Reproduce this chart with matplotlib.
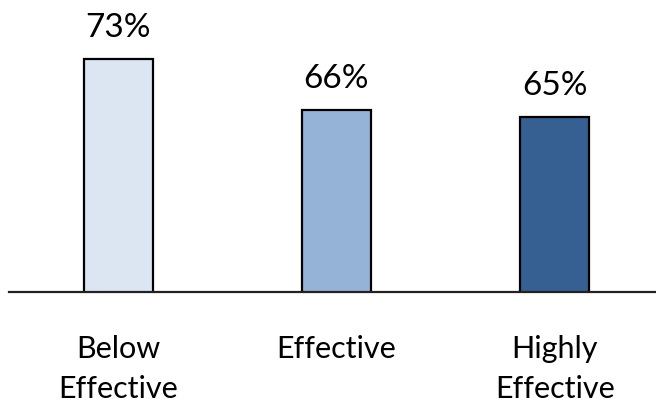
import matplotlib
matplotlib.use("Agg")
import matplotlib.pyplot as plt
import numpy as np

categories = ["Below\nEffective", "Effective", "Highly\nEffective"]
values = [73, 66, 65]
value_labels = ["73%", "66%", "65%"]
bar_colors = ["#DCE6F2", "#95B3D7", "#376092"]

plt.rcParams["font.family"] = ["Lato", "DejaVu Sans"]

W, H, DPI = 656, 399, 100
fig = plt.figure(figsize=(W / DPI, H / DPI), dpi=DPI)

base_px = 291.5
ax = fig.add_axes([9 / W, (H - base_px) / H, (W - 9) / W, base_px / H])

x = np.arange(len(categories))
ax.bar(x, values, width=0.317, color=bar_colors, edgecolor="black",
       linewidth=1.6, zorder=2)

ax.set_xlim(-0.5, 2.464)
ax.set_ylim(41.1, 81.1)

for xi, v, lab in zip(x, values, value_labels):
    ax.annotate(lab, (xi, v), xytext=(0, 16), textcoords="offset points",
                ha="center", va="baseline", fontsize=24, color="black")

for side in ["left", "right", "top"]:
    ax.spines[side].set_visible(False)
ax.spines["bottom"].set_linewidth(1.6)
ax.spines["bottom"].set_color("#222222")
ax.spines["bottom"].set_zorder(3)

ax.set_yticks([])
ax.set_xticks(x)
ax.set_xticklabels(categories, fontsize=22, linespacing=1.55)
ax.tick_params(axis="x", length=0, pad=31)

fig.savefig("out.png", dpi=DPI)
